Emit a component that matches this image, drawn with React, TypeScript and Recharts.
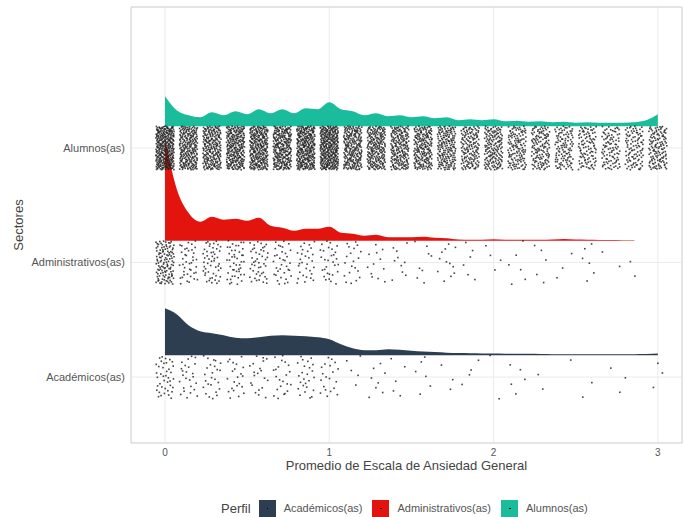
import React from "react";
import {
  Area,
  CartesianGrid,
  ComposedChart,
  Legend,
  ReferenceArea,
  Scatter,
  XAxis,
  YAxis,
} from "recharts";

// perfiles (orden de abajo hacia arriba)
const CATEGORIES = ["Académicos(as)", "Administrativos(as)", "Alumnos(as)"];
const CATEGORY_POS = [1, 2, 3];
const COLORS = ["#2c3e50", "#e3140d", "#1abc9c"];

// valores posibles del promedio (7 items, 0-3)
const SCORES = [
  0, 0.143, 0.286, 0.429, 0.571, 0.714, 0.857, 1, 1.143, 1.286, 1.429, 1.571,
  1.714, 1.857, 2, 2.143, 2.286, 2.429, 2.571, 2.714, 2.857, 3,
];

const ACAD_COUNTS = [40, 25, 25, 22, 20, 22, 25, 20, 5, 8, 5, 6, 3, 4, 2, 5, 2, 1, 2, 2, 1, 3];
const ADMIN_COUNTS = [120, 40, 50, 45, 45, 35, 30, 30, 20, 12, 10, 8, 12, 6, 4, 6, 5, 3, 6, 2, 2, 0];
const ALUMNOS_COUNTS = [
  330, 240, 230, 260, 270, 260, 300, 330, 230, 220, 200, 200, 180, 150, 160, 130, 130, 110,
  100, 95, 100, 130,
];

// rejilla de la densidad
const GRID = [
  0, 0.071, 0.143, 0.214, 0.286, 0.357, 0.429, 0.5, 0.571, 0.643, 0.714, 0.786, 0.857,
  0.929, 1, 1.071, 1.143, 1.214, 1.286, 1.357, 1.429, 1.5, 1.571, 1.643, 1.714, 1.786,
  1.857, 1.929, 2, 2.071, 2.143, 2.214, 2.286, 2.357, 2.429, 2.5, 2.571, 2.643, 2.714,
  2.786, 2.857, 2.929, 3,
];

const ACAD_DENS = [
  47, 41, 30, 24, 22, 20, 17.5, 17, 18, 19.5, 20, 19.5, 19, 18, 16, 11, 7, 5, 5, 6, 5.5,
  4.5, 3.8, 3.2, 2.5, 2.2, 2, 1.8, 1.7, 1.6, 1.5, 1.4, 1.3, 1.1, 1, 1, 1, 1, 1, 1, 1.1,
  1.3, 1.7,
];
const ADMIN_DENS = [
  103, 52, 28, 19, 24, 21, 22, 20, 23, 15, 13, 10, 12, 12, 14, 8, 7, 5, 6, 3.5, 3.5, 3.5,
  4, 3, 2.5, 1.2, 1, 1, 1.5, 1, 1, 1, 1, 1.2, 1.8, 1.2, 1, 0.8, 0.8, 0.6, 0.6, null, null,
];
const ALUMNOS_DENS = [
  30, 16, 11, 9, 14, 11, 15, 12, 17, 13, 17, 13, 18, 17, 24, 17, 15, 11, 13, 10, 11, 9,
  10, 8, 9, 6, 7, 6, 7, 5, 5.5, 4.5, 5, 4, 4.5, 3.5, 4, 3.5, 3.5, 3.5, 4, 6, 12,
];

const DENS_SCALE = 1 / 114.5;
const DENS_OFFSET = 0.19;
const JITTER_X = 0.055;
const JITTER_Y = 0.19;

const band = (cat: number, d: number | null) =>
  d == null ? null : [cat + DENS_OFFSET, cat + DENS_OFFSET + d * DENS_SCALE];

const rows = GRID.map((x, i) => ({
  x,
  acad: band(CATEGORY_POS[0], ACAD_DENS[i]),
  admin: band(CATEGORY_POS[1], ADMIN_DENS[i]),
  alumnos: band(CATEGORY_POS[2], ALUMNOS_DENS[i]),
}));

// jitter determinista (secuencia de Halton)
function halton(i: number, b: number) {
  let f = 1;
  let r = 0;
  while (i > 0) {
    f /= b;
    r += f * (i % b);
    i = Math.floor(i / b);
  }
  return r;
}

function cloud(counts: number[], cat: number, seed: number) {
  const pts: { x: number; y: number }[] = [];
  let n = seed;
  SCORES.forEach((s, k) => {
    for (let j = 0; j < counts[k]; j++) {
      n++;
      pts.push({
        x: s + (halton(n, 2) - 0.5) * 2 * JITTER_X,
        y: cat + (halton(n, 3) - 0.5) * 2 * JITTER_Y,
      });
    }
  });
  return pts;
}

const acadPts = cloud(ACAD_COUNTS, CATEGORY_POS[0], 11);
const adminPts = cloud(ADMIN_COUNTS, CATEGORY_POS[1], 503);
const alumnosPts = cloud(ALUMNOS_COUNTS, CATEGORY_POS[2], 1207);

const Dot = (p: any) => (
  <rect
    x={p.cx - 0.8}
    y={p.cy - 0.8}
    width={1.6}
    height={1.6}
    fill="#222"
    fillOpacity={0.85}
  />
);

const YTick = ({ y, payload }: any) => (
  <text x={125} y={y} dy="0.35em" textAnchor="end" fontSize={11} fill="#555">
    {CATEGORIES[CATEGORY_POS.indexOf(payload.value)]}
  </text>
);

const LegendBox = () => (
  <div
    style={{
      display: "flex",
      alignItems: "center",
      paddingLeft: 221,
      height: 18,
      fontSize: 11,
      color: "#555",
    }}
  >
    <span style={{ fontSize: 13, color: "#444", marginRight: 8 }}>Perfil</span>
    {CATEGORIES.map((c, i) => (
      <span key={c} style={{ display: "flex", alignItems: "center", marginRight: 10 }}>
        <span
          style={{
            width: 17,
            height: 17,
            background: COLORS[i],
            marginRight: 8,
            position: "relative",
          }}
        >
          <span
            style={{
              position: "absolute",
              left: 8,
              top: 8,
              width: 1.5,
              height: 1.5,
              background: "#000",
            }}
          />
        </span>
        {c}
      </span>
    ))}
  </div>
);

export default function App() {
  return (
    <div
      style={{
        position: "absolute",
        left: 0,
        top: 0,
        width: 683,
        height: 517,
        background: "#fff",
        fontFamily: "'Liberation Sans', Arial, sans-serif",
      }}
    >
      <ComposedChart
        width={683}
        height={517}
        data={rows}
        margin={{ top: 7, right: 1, left: 0, bottom: 0 }}
      >
        <CartesianGrid stroke="#ebebeb" />
        <ReferenceArea
          x1={-0.207}
          x2={3.147}
          y1={0.424}
          y2={4.231}
          fill="none"
          stroke="#d4d4d4"
          strokeWidth={1}
        />
        <XAxis
          type="number"
          dataKey="x"
          domain={[-0.207, 3.147]}
          ticks={[0, 1, 2, 3]}
          allowDataOverflow
          axisLine={false}
          tickLine={false}
          tickMargin={0}
          height={74}
          tick={{ fill: "#555", fontSize: 10 }}
          label={{
            value: "Promedio de Escala de Ansiedad General",
            position: "insideTop",
            offset: 18,
            fill: "#444",
            fontSize: 13,
          }}
        />
        <YAxis
          type="number"
          dataKey="y"
          domain={[0.424, 4.231]}
          ticks={CATEGORY_POS}
          allowDataOverflow
          axisLine={false}
          tickLine={false}
          width={131}
          tick={<YTick />}
          label={{
            content: () => (
              <text
                x={18}
                y={225}
                transform="rotate(-90 18 225)"
                textAnchor="middle"
                dominantBaseline="central"
                fontSize={13}
                fill="#444"
              >
                Sectores
              </text>
            ),
          }}
        />
        <Area
          dataKey="acad"
          type="monotone"
          fill={COLORS[0]}
          fillOpacity={1}
          stroke="none"
          isAnimationActive={false}
        />
        <Area
          dataKey="admin"
          type="monotone"
          fill={COLORS[1]}
          fillOpacity={1}
          stroke="none"
          isAnimationActive={false}
        />
        <Area
          dataKey="alumnos"
          type="monotone"
          fill={COLORS[2]}
          fillOpacity={1}
          stroke="none"
          isAnimationActive={false}
        />
        <Scatter data={acadPts} shape={Dot} isAnimationActive={false} />
        <Scatter data={adminPts} shape={Dot} isAnimationActive={false} />
        <Scatter data={alumnosPts} shape={Dot} isAnimationActive={false} />
        <Legend
          layout="horizontal"
          verticalAlign="middle"
          align="center"
          content={<LegendBox />}
          wrapperStyle={{ top: 499, left: 0, width: 683 }}
        />
      </ComposedChart>
    </div>
  );
}
